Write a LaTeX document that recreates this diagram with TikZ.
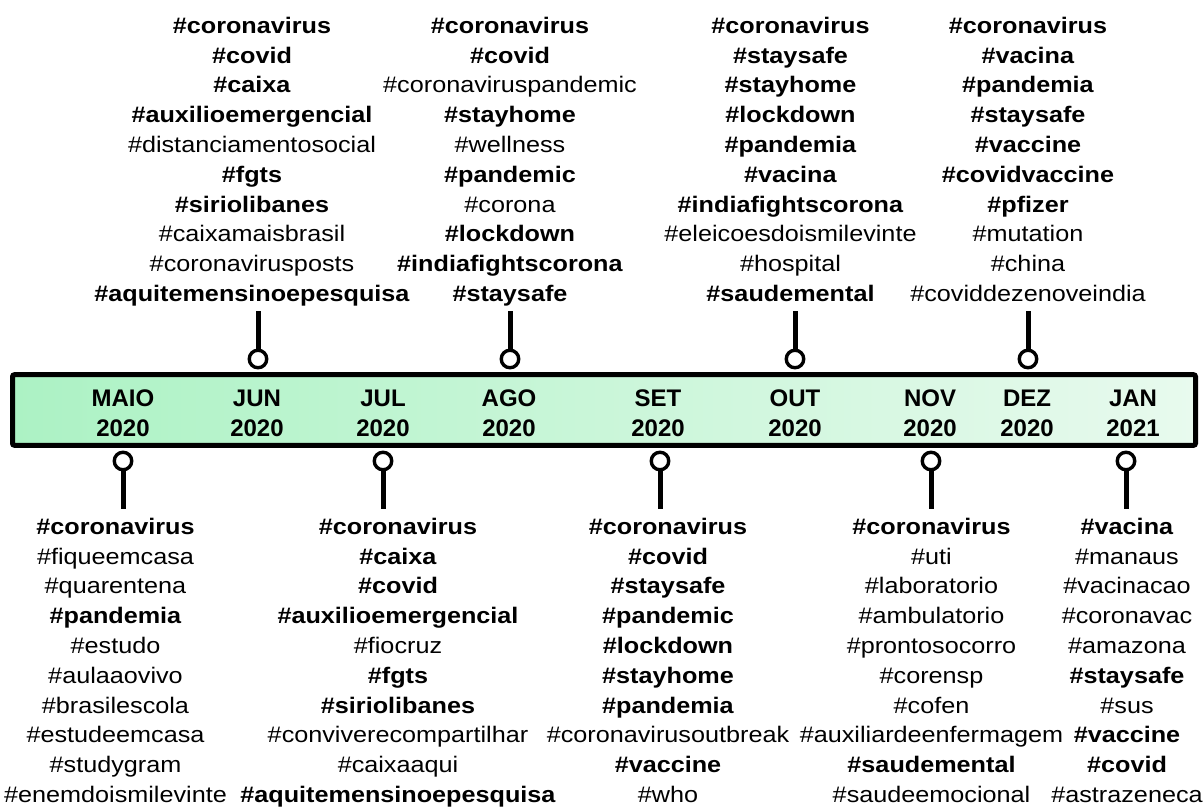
\documentclass[tikz,border=0pt]{standalone}
\usepackage{fontspec}
\setmainfont{Liberation Sans}
\newfontfamily\tagfont{Liberation Sans}[FakeStretch=1.12]
\definecolor{barleft}{RGB}{172,242,196}
\definecolor{barright}{RGB}{232,250,238}
\begin{document}
\begin{tikzpicture}[x=1pt,y=-1pt]
\tikzset{
  tags/.style={font=\tagfont\fontsize{22.5}{29.8}\selectfont, align=center, inner sep=0pt, anchor=base},
  month/.style={font=\bfseries\fontsize{24}{30.5}\selectfont, align=center, inner sep=0pt, anchor=base},
  pin/.style={circle, draw=black, line width=3.4pt, fill=white, minimum size=17.5pt, inner sep=0pt},
  stem/.style={line width=5pt},
  bar/.style={draw=black, line width=5pt, rounded corners=2pt, left color=barleft, right color=barright, minimum width=1183pt, minimum height=70.6pt, inner sep=0pt}
}
\useasboundingbox (0,0) rectangle (1204,807);

% timeline bar
\node[bar] (bar) at (604,410) {};

% month labels (anchored at the baseline of the year line)
\node[month] (maio) at (123,436.7) {MAIO\\2020};
\node[month] (jun) at (257,436.7) {JUN\\2020};
\node[month] (jul) at (383,436.7) {JUL\\2020};
\node[month] (ago) at (509,436.7) {AGO\\2020};
\node[month] (set) at (658,436.7) {SET\\2020};
\node[month] (out) at (795,436.7) {OUT\\2020};
\node[month] (nov) at (930,436.7) {NOV\\2020};
\node[month] (dez) at (1027,436.7) {DEZ\\2020};
\node[month] (jan) at (1133,436.7) {JAN\\2021};

% top pins
\node[pin] (pjun) at (258,359) {};
\node[pin] (pago) at (510,359) {};
\node[pin] (pout) at (795,359) {};
\node[pin] (pdez) at (1028,359) {};
\coordinate (sjun) at (258,311);
\coordinate (sago) at (510,311);
\coordinate (sout) at (795,311);
\coordinate (sdez) at (1028,311);
\draw[stem] (sjun) -- (pjun.north);
\draw[stem] (sago) -- (pago.north);
\draw[stem] (sout) -- (pout.north);
\draw[stem] (sdez) -- (pdez.north);

% bottom pins
\node[pin] (pmaio) at (123,461) {};
\node[pin] (pjul) at (383,461) {};
\node[pin] (pset) at (660,461) {};
\node[pin] (pnov) at (931,461) {};
\node[pin] (pjan) at (1126,461) {};
\coordinate (smaio) at (123,509);
\coordinate (sjul) at (383,509);
\coordinate (sset) at (660,509);
\coordinate (snov) at (931,509);
\coordinate (sjan) at (1126,509);
\draw[stem] (pmaio.south) -- (smaio);
\draw[stem] (pjul.south) -- (sjul);
\draw[stem] (pset.south) -- (sset);
\draw[stem] (pnov.south) -- (snov);
\draw[stem] (pjan.south) -- (sjan);

% top tag lists (anchored at the baseline of the last line)
\node[tags] (tjun) at (252,301.5) {\textbf{\#coronavirus}\\\textbf{\#covid}\\\textbf{\#caixa}\\\textbf{\#auxilioemergencial}\\\#distanciamentosocial\\\textbf{\#fgts}\\\textbf{\#siriolibanes}\\\#caixamaisbrasil\\\#coronavirusposts\\\textbf{\#aquitemensinoepesquisa}};
\node[tags] (tago) at (510,301.5) {\textbf{\#coronavirus}\\\textbf{\#covid}\\\#coronaviruspandemic\\\textbf{\#stayhome}\\\#wellness\\\textbf{\#pandemic}\\\#corona\\\textbf{\#lockdown}\\\textbf{\#indiafightscorona}\\\textbf{\#staysafe}};
\node[tags] (tout) at (790.5,301.5) {\textbf{\#coronavirus}\\\textbf{\#staysafe}\\\textbf{\#stayhome}\\\textbf{\#lockdown}\\\textbf{\#pandemia}\\\textbf{\#vacina}\\\textbf{\#indiafightscorona}\\\#eleicoesdoismilevinte\\\#hospital\\\textbf{\#saudemental}};
\node[tags] (tdez) at (1028,301.5) {\textbf{\#coronavirus}\\\textbf{\#vacina}\\\textbf{\#pandemia}\\\textbf{\#staysafe}\\\textbf{\#vaccine}\\\textbf{\#covidvaccine}\\\textbf{\#pfizer}\\\#mutation\\\#china\\\#coviddezenoveindia};

% bottom tag lists
\node[tags] (tmaio) at (115.5,802.5) {\textbf{\#coronavirus}\\\#fiqueemcasa\\\#quarentena\\\textbf{\#pandemia}\\\#estudo\\\#aulaaovivo\\\#brasilescola\\\#estudeemcasa\\\#studygram\\\#enemdoismilevinte};
\node[tags] (tjul) at (398,802.5) {\textbf{\#coronavirus}\\\textbf{\#caixa}\\\textbf{\#covid}\\\textbf{\#auxilioemergencial}\\\#fiocruz\\\textbf{\#fgts}\\\textbf{\#siriolibanes}\\\#conviverecompartilhar\\\#caixaaqui\\\textbf{\#aquitemensinoepesquisa}};
\node[tags] (tset) at (668,802.5) {\textbf{\#coronavirus}\\\textbf{\#covid}\\\textbf{\#staysafe}\\\textbf{\#pandemic}\\\textbf{\#lockdown}\\\textbf{\#stayhome}\\\textbf{\#pandemia}\\\#coronavirusoutbreak\\\textbf{\#vaccine}\\\#who};
\node[tags] (tnov) at (931.5,802.5) {\textbf{\#coronavirus}\\\#uti\\\#laboratorio\\\#ambulatorio\\\#prontosocorro\\\#corensp\\\#cofen\\\#auxiliardeenfermagem\\\textbf{\#saudemental}\\\#saudeemocional};
\node[tags] (tjan) at (1127,802.5) {\textbf{\#vacina}\\\#manaus\\\#vacinacao\\\#coronavac\\\#amazona\\\textbf{\#staysafe}\\\#sus\\\textbf{\#vaccine}\\\textbf{\#covid}\\\#astrazeneca};
\end{tikzpicture}
\end{document}
